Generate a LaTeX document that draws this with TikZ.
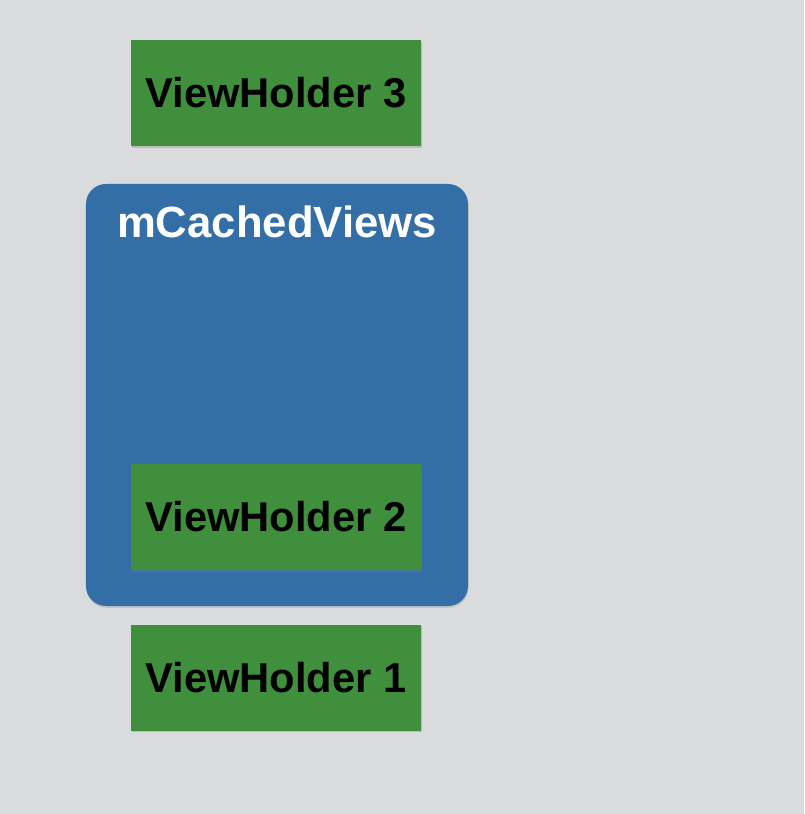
\documentclass[tikz,border=0pt]{standalone}
\usepackage{fontspec}
\setmainfont{Liberation Sans}
\usetikzlibrary{positioning, shadows}

\definecolor{bggray}{HTML}{DADBDD}
\definecolor{holdergreen}{HTML}{3F8F3C}
\definecolor{cacheblue}{HTML}{336FA6}

\begin{document}
\begin{tikzpicture}[x=0.03cm,y=-0.03cm,
			holder/.style={rectangle, fill=holdergreen, minimum width=8.7cm, minimum height=3.18cm,
				font=\fontsize{35.6}{40}\selectfont\bfseries, text=black,
				drop shadow={shadow xshift=0.5pt, shadow yshift=-1.5pt, opacity=0.35}},
			cache/.style={rectangle, rounded corners=0.6cm, fill=cacheblue, minimum width=11.46cm, minimum height=12.66cm,
				drop shadow={shadow xshift=0.5pt, shadow yshift=-1.5pt, opacity=0.25}}]

		%% Background
		\fill[bggray] (0, 0) rectangle (804, 814);

		%% Nodes
		\begin{scope}
			\node (vh_three) at (276, 93) [holder] {ViewHolder 3};

			\node (cached_views) at (277, 395) [cache] {};
			\node (cached_title) at (277, 237) [anchor=base, text=white, font=\fontsize{37.3}{42}\selectfont\bfseries] {mCachedViews};

			\node (vh_two) at (276, 517) [holder] {ViewHolder 2};
		\end{scope}

		% Below the cache
		\node (vh_one) at (276, 677.5) [holder] {ViewHolder 1};
	\end{tikzpicture}
\end{document}
